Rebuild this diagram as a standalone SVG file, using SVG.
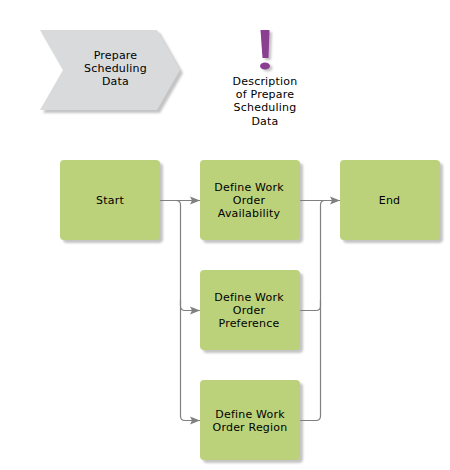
<svg xmlns="http://www.w3.org/2000/svg" width="450" height="470" viewBox="0 0 450 470">
<style>
text{font-family:"DejaVu Sans",Verdana,sans-serif;font-size:11px;letter-spacing:.2px;fill:#000;text-anchor:middle}
.n{fill:#bbd27b}
.s{fill:#c4c4c4}
.c{fill:none;stroke:#808080;stroke-width:1.2}
</style>
<defs>
<marker id="a" markerUnits="userSpaceOnUse" markerWidth="10" markerHeight="10" refX="10" refY="5" orient="auto"><path d="M0 1L10 5L0 9L2 5Z" fill="#808080"/></marker>
<filter id="b" x="-10%" y="-10%" width="120%" height="120%"><feGaussianBlur stdDeviation="0.8"/></filter>
</defs>
<g id="prepare-scheduling-data">
<polygon points="43,33 160,33 183,73 160,113 43,113 66,73" class="s" filter="url(#b)"/>
<polygon points="40,30 157,30 180,70 157,110 40,110 63,70" fill="#d9dadc"/>
<text x="115.500" y="59">Prepare</text><text x="115.500" y="72">Scheduling</text><text x="115.500" y="85">Data</text>
</g>
<g id="description">
<g class="s" filter="url(#b)"><polygon points="263,32 272,32 271,60 265,60"/><ellipse cx="267.500" cy="68" rx="5" ry="3.500"/></g>
<polygon points="260.500,30 269.500,30 268.500,58 262.500,58" fill="#8a3f90"/><ellipse cx="265" cy="66" rx="5" ry="3.500" fill="#8a3f90"/>
<text x="265" y="85">Description</text><text x="265" y="98">of Prepare</text><text x="265" y="111">Scheduling</text><text x="265" y="125">Data</text>
</g>
<g id="start"><rect x="63" y="163" width="100" height="80" rx="4" class="s" filter="url(#b)"/><rect x="60" y="160" width="100" height="80" rx="4" class="n"/><text x="110" y="204">Start</text></g>
<g id="availability"><rect x="203" y="163" width="100" height="80" rx="4" class="s" filter="url(#b)"/><rect x="200" y="160" width="100" height="80" rx="4" class="n"/><text x="249" y="191">Define Work</text><text x="249" y="204">Order</text><text x="249" y="217">Availability</text></g>
<g id="end"><rect x="343" y="163" width="100" height="80" rx="4" class="s" filter="url(#b)"/><rect x="340" y="160" width="100" height="80" rx="4" class="n"/><text x="389.500" y="204">End</text></g>
<g id="preference"><rect x="203" y="273" width="100" height="80" rx="4" class="s" filter="url(#b)"/><rect x="200" y="270" width="100" height="80" rx="4" class="n"/><text x="249" y="301">Define Work</text><text x="249" y="314">Order</text><text x="249" y="327">Preference</text></g>
<g id="region"><rect x="203" y="383" width="100" height="80" rx="4" class="s" filter="url(#b)"/><rect x="200" y="380" width="100" height="80" rx="4" class="n"/><text x="250" y="418">Define Work</text><text x="250" y="431">Order Region</text></g>
<g id="connectors">
<path class="c" marker-end="url(#a)" d="M160 200.500H200"/>
<path class="c" marker-end="url(#a)" d="M176 200.500Q180.500 200.500 180.500 205V306Q180.500 310.500 185 310.500H200"/>
<path class="c" marker-end="url(#a)" d="M180.500 300V416Q180.500 420.500 185 420.500H200"/>
<path class="c" marker-end="url(#a)" d="M300 200.500H340"/>
<path class="c" d="M300 310.500H316Q320.500 310.500 320.500 306V205Q320.500 200.500 325 200.500"/>
<path class="c" d="M300 420.500H316Q320.500 420.500 320.500 416V300"/>
</g>
</svg>
